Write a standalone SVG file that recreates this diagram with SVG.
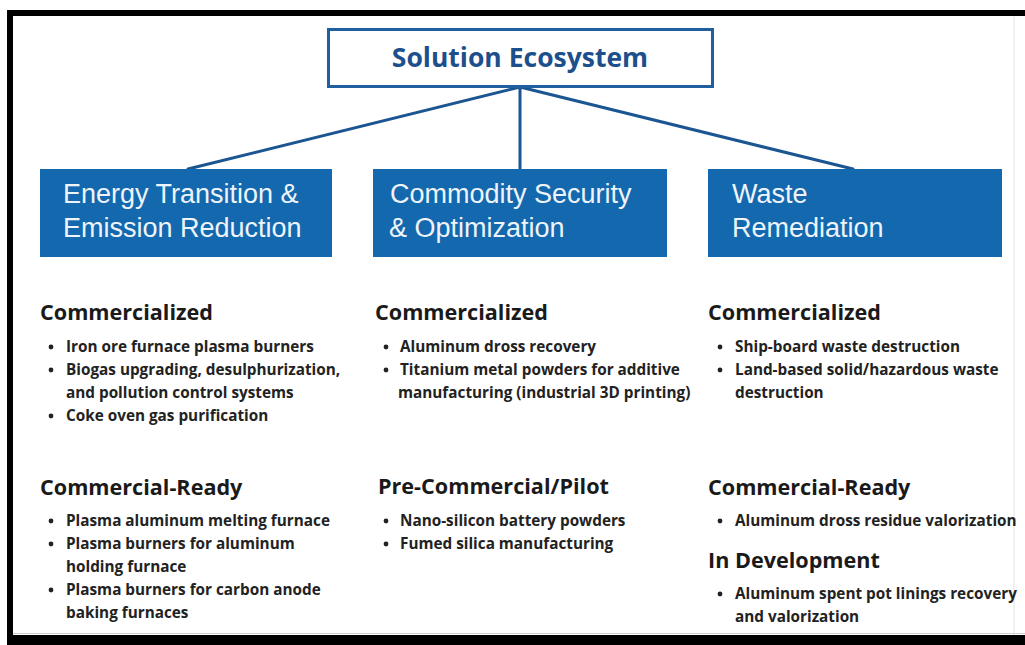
<svg xmlns="http://www.w3.org/2000/svg" width="1025" height="645" viewBox="0 0 1025 645">
  <style>
    .title { font-family: "Open Sans", "Noto Sans", sans-serif; font-weight: 700; font-size: 26.5px; fill: #1d4f8c; }
    .cat { font-family: "Liberation Sans", Arial, sans-serif; font-size: 27px; fill: #eef4fa; }
    .catbox { fill: #1468ad; }
    .head { font-family: "Open Sans", "Noto Sans", sans-serif; font-weight: 700; font-size: 21.6px; fill: #1a1a1a; }
    .item { font-family: "Open Sans", "Noto Sans", sans-serif; font-weight: 700; font-size: 15.3px; fill: #222222; }
    .dot { fill: #222222; }
    .link { stroke: #1b5592; stroke-width: 3; fill: none; stroke-linecap: round; }
  </style>

  <!-- page and frame -->
  <rect x="0" y="0" width="1025" height="645" fill="#ffffff"/>
  <rect x="7" y="10" width="1018" height="6" fill="#000000"/>
  <rect x="7" y="10" width="6" height="635" fill="#000000"/>
  <rect x="7" y="635" width="1018" height="10" fill="#000000"/>
  <line x1="1014" y1="16" x2="1014" y2="635" stroke="#ececec" stroke-width="1.5"/>
  <line x1="13" y1="633.5" x2="1025" y2="633.5" stroke="#d0d0d0" stroke-width="1"/>

  <!-- connectors -->
  <g id="connectors">
    <line class="link" x1="520" y1="87" x2="188" y2="169"/>
    <line class="link" x1="520" y1="87" x2="520" y2="169"/>
    <line class="link" x1="520" y1="87" x2="853" y2="169"/>
  </g>

  <!-- root -->
  <g id="root">
    <rect x="328.5" y="29.5" width="384" height="57" fill="#ffffff" stroke="#1f5f9f" stroke-width="3"/>
    <text class="title" x="520" y="67" text-anchor="middle">Solution Ecosystem</text>
  </g>

  <!-- category boxes -->
  <g id="energy">
    <rect class="catbox" x="40" y="169" width="292" height="88"/>
    <text class="cat" x="63" y="203">Energy Transition &amp;</text>
    <text class="cat" x="63" y="237">Emission Reduction</text>
  </g>
  <g id="commodity">
    <rect class="catbox" x="373" y="169" width="294" height="88"/>
    <text class="cat" x="390" y="203">Commodity Security</text>
    <text class="cat" x="389" y="237">&amp; Optimization</text>
  </g>
  <g id="waste">
    <rect class="catbox" x="708" y="169" width="294" height="88"/>
    <text class="cat" x="732" y="203">Waste</text>
    <text class="cat" x="732" y="237">Remediation</text>
  </g>

  <!-- energy column -->
  <g id="energy-commercialized">
    <text class="head" x="40" y="320">Commercialized</text>
    <circle class="dot" cx="51" cy="347" r="2.4"/>
    <text class="item" x="66" y="352">Iron ore furnace plasma burners</text>
    <circle class="dot" cx="51" cy="370" r="2.4"/>
    <text class="item" x="66" y="375">Biogas upgrading, desulphurization,</text>
    <text class="item" x="66" y="398">and pollution control systems</text>
    <circle class="dot" cx="51" cy="416" r="2.4"/>
    <text class="item" x="66" y="421">Coke oven gas purification</text>
  </g>
  <g id="energy-ready">
    <text class="head" x="40" y="495">Commercial-Ready</text>
    <circle class="dot" cx="51" cy="521" r="2.4"/>
    <text class="item" x="66" y="526">Plasma aluminum melting furnace</text>
    <circle class="dot" cx="51" cy="544" r="2.4"/>
    <text class="item" x="66" y="549">Plasma burners for aluminum</text>
    <text class="item" x="66" y="572">holding furnace</text>
    <circle class="dot" cx="51" cy="590" r="2.4"/>
    <text class="item" x="66" y="595">Plasma burners for carbon anode</text>
    <text class="item" x="66" y="618">baking furnaces</text>
  </g>

  <!-- commodity column -->
  <g id="commodity-commercialized">
    <text class="head" x="375" y="320">Commercialized</text>
    <circle class="dot" cx="386" cy="347" r="2.4"/>
    <text class="item" x="400" y="352">Aluminum dross recovery</text>
    <circle class="dot" cx="386" cy="370" r="2.4"/>
    <text class="item" x="400" y="375">Titanium metal powders for additive</text>
    <text class="item" x="398" y="398">manufacturing (industrial 3D printing)</text>
  </g>
  <g id="commodity-pilot">
    <text class="head" x="378" y="494">Pre-Commercial/Pilot</text>
    <circle class="dot" cx="386" cy="521" r="2.4"/>
    <text class="item" x="400" y="526">Nano-silicon battery powders</text>
    <circle class="dot" cx="386" cy="544" r="2.4"/>
    <text class="item" x="400" y="549">Fumed silica manufacturing</text>
  </g>

  <!-- waste column -->
  <g id="waste-commercialized">
    <text class="head" x="708" y="320">Commercialized</text>
    <circle class="dot" cx="720" cy="347" r="2.4"/>
    <text class="item" x="735" y="352">Ship-board waste destruction</text>
    <circle class="dot" cx="720" cy="370" r="2.4"/>
    <text class="item" x="735" y="375">Land-based solid/hazardous waste</text>
    <text class="item" x="735" y="398">destruction</text>
  </g>
  <g id="waste-ready">
    <text class="head" x="708" y="495">Commercial-Ready</text>
    <circle class="dot" cx="720" cy="521" r="2.4"/>
    <text class="item" x="735" y="526">Aluminum dross residue valorization</text>
  </g>
  <g id="waste-development">
    <text class="head" x="708" y="568">In Development</text>
    <circle class="dot" cx="720" cy="594" r="2.4"/>
    <text class="item" x="735" y="599">Aluminum spent pot linings recovery</text>
    <text class="item" x="735" y="622">and valorization</text>
  </g>
</svg>
